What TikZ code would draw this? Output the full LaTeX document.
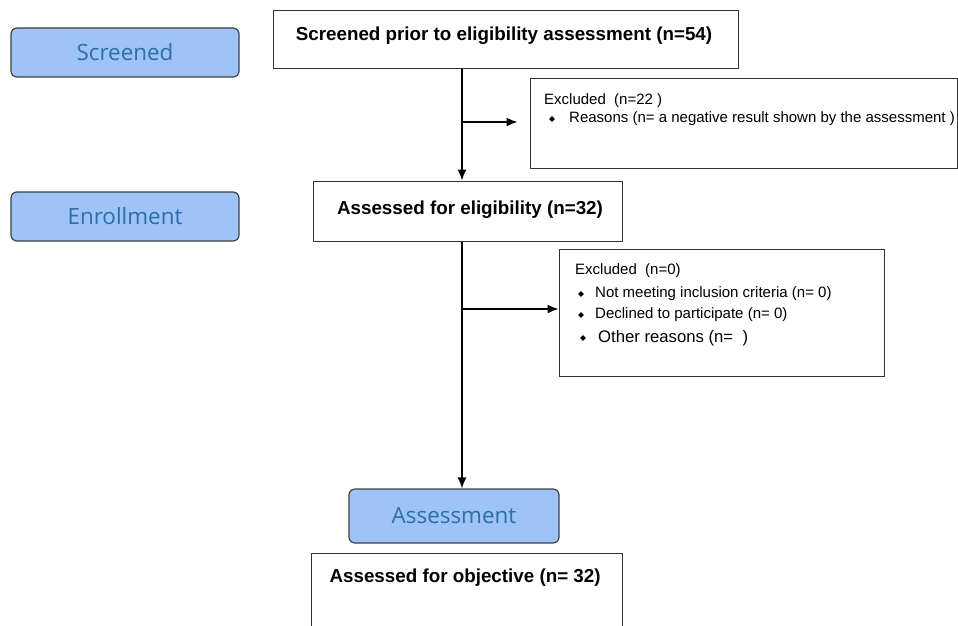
\documentclass[tikz,border=0pt]{standalone}
\usepackage{fontspec}
\setmainfont{Liberation Sans}
\newfontfamily\stagefont{Open Sans}
\usetikzlibrary{arrows.meta,positioning,shapes.geometric}
\definecolor{stagefill}{HTML}{9DC3F7}
\definecolor{stagetext}{HTML}{2E6EA6}
\tikzstyle{stage}=[draw=black!75,fill=stagefill,rounded corners=6pt,line width=1.2pt,font=\stagefont\fontsize{22.4}{26}\selectfont,text=stagetext]
\tikzstyle{box}=[draw=black!80,line width=1pt,inner sep=0pt]
\tikzstyle{title}=[font=\bfseries\fontsize{18.8}{22}\selectfont]
\tikzstyle{small}=[font=\fontsize{15}{18}\selectfont,inner sep=0pt,anchor=west]
\tikzstyle{dot}=[diamond,fill=black,inner sep=0pt,minimum size=6pt]
\tikzstyle{edge}=[draw,line width=1.5pt,-{Latex[length=11pt,width=9pt]}]

\begin{document}
\begin{tikzpicture}[x=1pt,y=-1pt]
    \useasboundingbox (0,0) rectangle (958,625);
    % Stages on the left and at the bottom
    \foreach \pos/\name/\w/\h/\txt in {{(125,52.5)/screened/228/49/Screened},
                                       {(125,216.5)/enroll/228/49/Enrollment},
                                       {(454,516)/assess/210/54/Assessment}}
        \node[stage,minimum width=\w pt,minimum height=\h pt] (\name) at \pos {\txt};

    % Then the boxes of the flow
    \node[box,minimum width=465pt,minimum height=58pt] (screen) at (505.5,39) {};
    \node[box,minimum width=309pt,minimum height=60pt] (elig) at (467.5,211) {};
    \node[box,minimum width=427pt,minimum height=90pt] (excl1) at (743.5,123) {};
    \node[box,minimum width=325pt,minimum height=127pt] (excl2) at (721.5,312.5) {};
    \node[box,minimum width=311pt,minimum height=80pt] (obj) at (466.5,593) {};

    \node[title] (screentxt) at (504,36) {Screened prior to eligibility assessment (n=54)};
    \node[title] (eligtxt) at (470,210) {Assessed for eligibility (n=32)};
    \node[title,anchor=west] (objtxt) at (326,578) {Assessed for objective (n= 32)};

    \node[small] (ex1) at (544,101) {Excluded\ \ (n=22 )};
    \node[small] (ex1a) at (569,119) {Reasons (n= a negative result shown by the assessment )};
    \node[small] (ex2) at (575,271) {Excluded\ \ (n=0)};
    \node[small] (ex2a) at (595,294) {Not meeting inclusion criteria (n= 0)};
    \node[small] (ex2b) at (595,315) {Declined to participate (n= 0)};
    \node[small,font=\fontsize{16.7}{20}\selectfont] (ex2c) at (598,338) {Other reasons (n=\ \ )};
    \foreach \pos in {(552,119), (581,294), (581,315), (583,338)}
        \node[dot] at \pos {};

    % Connect the boxes
    \coordinate (fork1) at (462,122);
    \coordinate (fork2) at (462,309);
    \draw[edge] (fork1 |- screen.south) -- (fork1 |- elig.north);
    \draw[edge,shorten >=12pt] (fork1) -- (fork1 -| excl1.west);
    \draw[edge] (fork2 |- elig.south) -- (fork2 |- assess.north);
    \draw[edge] (fork2) -- (fork2 -| excl2.west);
\end{tikzpicture}
\end{document}
